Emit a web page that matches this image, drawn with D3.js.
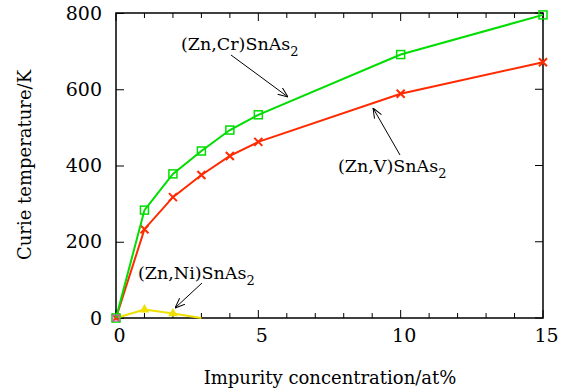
<!DOCTYPE html>
<meta charset="utf-8">
<style>
body { margin: 0; background: #fff; }
svg text { font-family: "DejaVu Serif", serif; fill: #000; }
.tick text { font-size: 19px; }
.label { font-size: 17.5px; }
.title { font-size: 18px; }
</style>
<svg width="563" height="391"></svg>
<script src="https://d3js.org/d3.v7.min.js"></script>
<script>

var conc = [0, 1, 2, 3, 4, 5, 10, 15];
var tcCr = [0, 283, 378, 438, 493, 533, 691, 795];
var tcV = [0, 233, 317, 375, 425, 462, 588, 671];
var concNi = [0, 1, 2, 3];
var tcNi = [0, 22, 12, 0];
var xTicks = [0, 5, 10, 15];
var yTicks = [0, 200, 400, 600, 800];

var svg = d3.select("svg"),
    pLeft = 116, pRight = 543, pTop = 13, pBottom = 318;

var x = d3.scaleLinear().domain([0, 15]).range([pLeft, pRight]);
var y = d3.scaleLinear().domain([0, 800]).range([pBottom, pTop]);

// minor x ticks every 1, top and bottom
var minor = d3.range(0, 16);
svg.append("g").selectAll("line").data(minor).enter().append("line")
    .attr("x1", d => x(d)).attr("x2", d => x(d))
    .attr("y1", pBottom).attr("y2", d => pBottom - (d % 5 == 0 ? 8 : 5))
    .attr("stroke", "#000");
svg.append("g").selectAll("line").data(minor).enter().append("line")
    .attr("x1", d => x(d)).attr("x2", d => x(d))
    .attr("y1", pTop).attr("y2", d => pTop + (d % 5 == 0 ? 8 : 5))
    .attr("stroke", "#000");
svg.append("g").selectAll("line").data(yTicks).enter().append("line")
    .attr("x1", pRight).attr("x2", pRight - 8)
    .attr("y1", d => y(d)).attr("y2", d => y(d))
    .attr("stroke", "#000");

// axes
svg.append("g")
  .attr("transform", "translate(0," + pBottom + ")")
  .call(d3.axisBottom(x).tickValues(xTicks).tickSize(0).tickPadding(11).tickFormat(d3.format("d")))
  .call(g => g.select(".domain").remove())
  .call(g => g.selectAll("text").attr("dx", 3));

svg.append("g")
  .attr("transform", "translate(" + pLeft + ",0)")
  .call(d3.axisLeft(y).tickValues(yTicks).tickSizeInner(-8).tickSizeOuter(0).tickPadding(14))
  .call(g => g.select(".domain").remove())
  .call(g => g.selectAll("line").attr("stroke", "#000"));

svg.selectAll("g").attr("font-family", null);

svg.append("rect")
  .attr("x", pLeft).attr("y", pTop)
  .attr("width", pRight - pLeft).attr("height", pBottom - pTop)
  .attr("fill", "none").attr("stroke", "#000").attr("stroke-width", 1.5);

var line = d3.line().x(d => x(d[0])).y(d => y(d[1]));

var cr = conc.map((c, i) => [c, tcCr[i]]);
var v = conc.map((c, i) => [c, tcV[i]]);
var ni = concNi.map((c, i) => [c, tcNi[i]]);

svg.append("path").datum(ni).attr("d", line)
  .attr("fill", "none").attr("stroke", "#f0e000").attr("stroke-width", 2);
svg.append("g").selectAll("path").data(ni.slice(1, 3)).enter().append("path")
  .attr("d", d3.symbol().type(d3.symbolTriangle).size(40))
  .attr("transform", d => "translate(" + x(d[0]) + "," + y(d[1]) + ")")
  .attr("fill", "#f0e000");

svg.append("path").datum(v).attr("d", line)
  .attr("fill", "none").attr("stroke", "#ff2a00").attr("stroke-width", 2);
svg.append("g").selectAll("path").data(v).enter().append("path")
  .attr("d", "M-4,-4L4,4M-4,4L4,-4")
  .attr("transform", d => "translate(" + x(d[0]) + "," + y(d[1]) + ")")
  .attr("stroke", "#ff2a00").attr("stroke-width", 2);

svg.append("path").datum(cr).attr("d", line)
  .attr("fill", "none").attr("stroke", "#00dd00").attr("stroke-width", 2);
svg.append("g").selectAll("rect").data(cr).enter().append("rect")
  .attr("x", d => x(d[0]) - 4).attr("y", d => y(d[1]) - 4)
  .attr("width", 8).attr("height", 8)
  .attr("fill", "none").attr("stroke", "#00dd00").attr("stroke-width", 1.5);

svg.append("rect").attr("x", x(0) - 3).attr("y", y(0) - 3).attr("width", 6).attr("height", 6)
  .attr("fill", "none").attr("stroke", "#e060e0").attr("stroke-width", 1);

// annotations
var defs = svg.append("defs");
defs.append("marker").attr("id", "ah").attr("viewBox", "0 0 10 10")
  .attr("refX", 10).attr("refY", 5).attr("markerWidth", 10).attr("markerHeight", 10)
  .attr("markerUnits", "userSpaceOnUse").attr("orient", "auto")
  .append("path").attr("d", "M0,1L10,5L0,9").attr("fill", "none").attr("stroke", "#000");

function note(tx, ty, name, x1, y1, x2, y2) {
  var t = svg.append("text").attr("class", "label").attr("x", tx).attr("y", ty);
  t.append("tspan").text(name + "SnAs");
  t.append("tspan").attr("dy", 6).attr("font-size", 13).text("2");
  svg.append("line").attr("x1", x1).attr("y1", y1).attr("x2", x2).attr("y2", y2)
    .attr("stroke", "#000").attr("stroke-width", 1).attr("marker-end", "url(#ah)");
}
note(181, 50, "(Zn,Cr)", 231, 55, 288, 97);
note(338, 172, "(Zn,V)", 400, 155, 373, 108);
note(138, 279, "(Zn,Ni)", 202, 283, 175, 308);

svg.append("text").attr("class", "title")
  .attr("transform", "translate(31,165) rotate(-90)")
  .attr("text-anchor", "middle").text("Curie temperature/K");
svg.append("text").attr("class", "title")
  .attr("x", 330).attr("y", 384).attr("text-anchor", "middle")
  .text("Impurity concentration/at%");

</script>
